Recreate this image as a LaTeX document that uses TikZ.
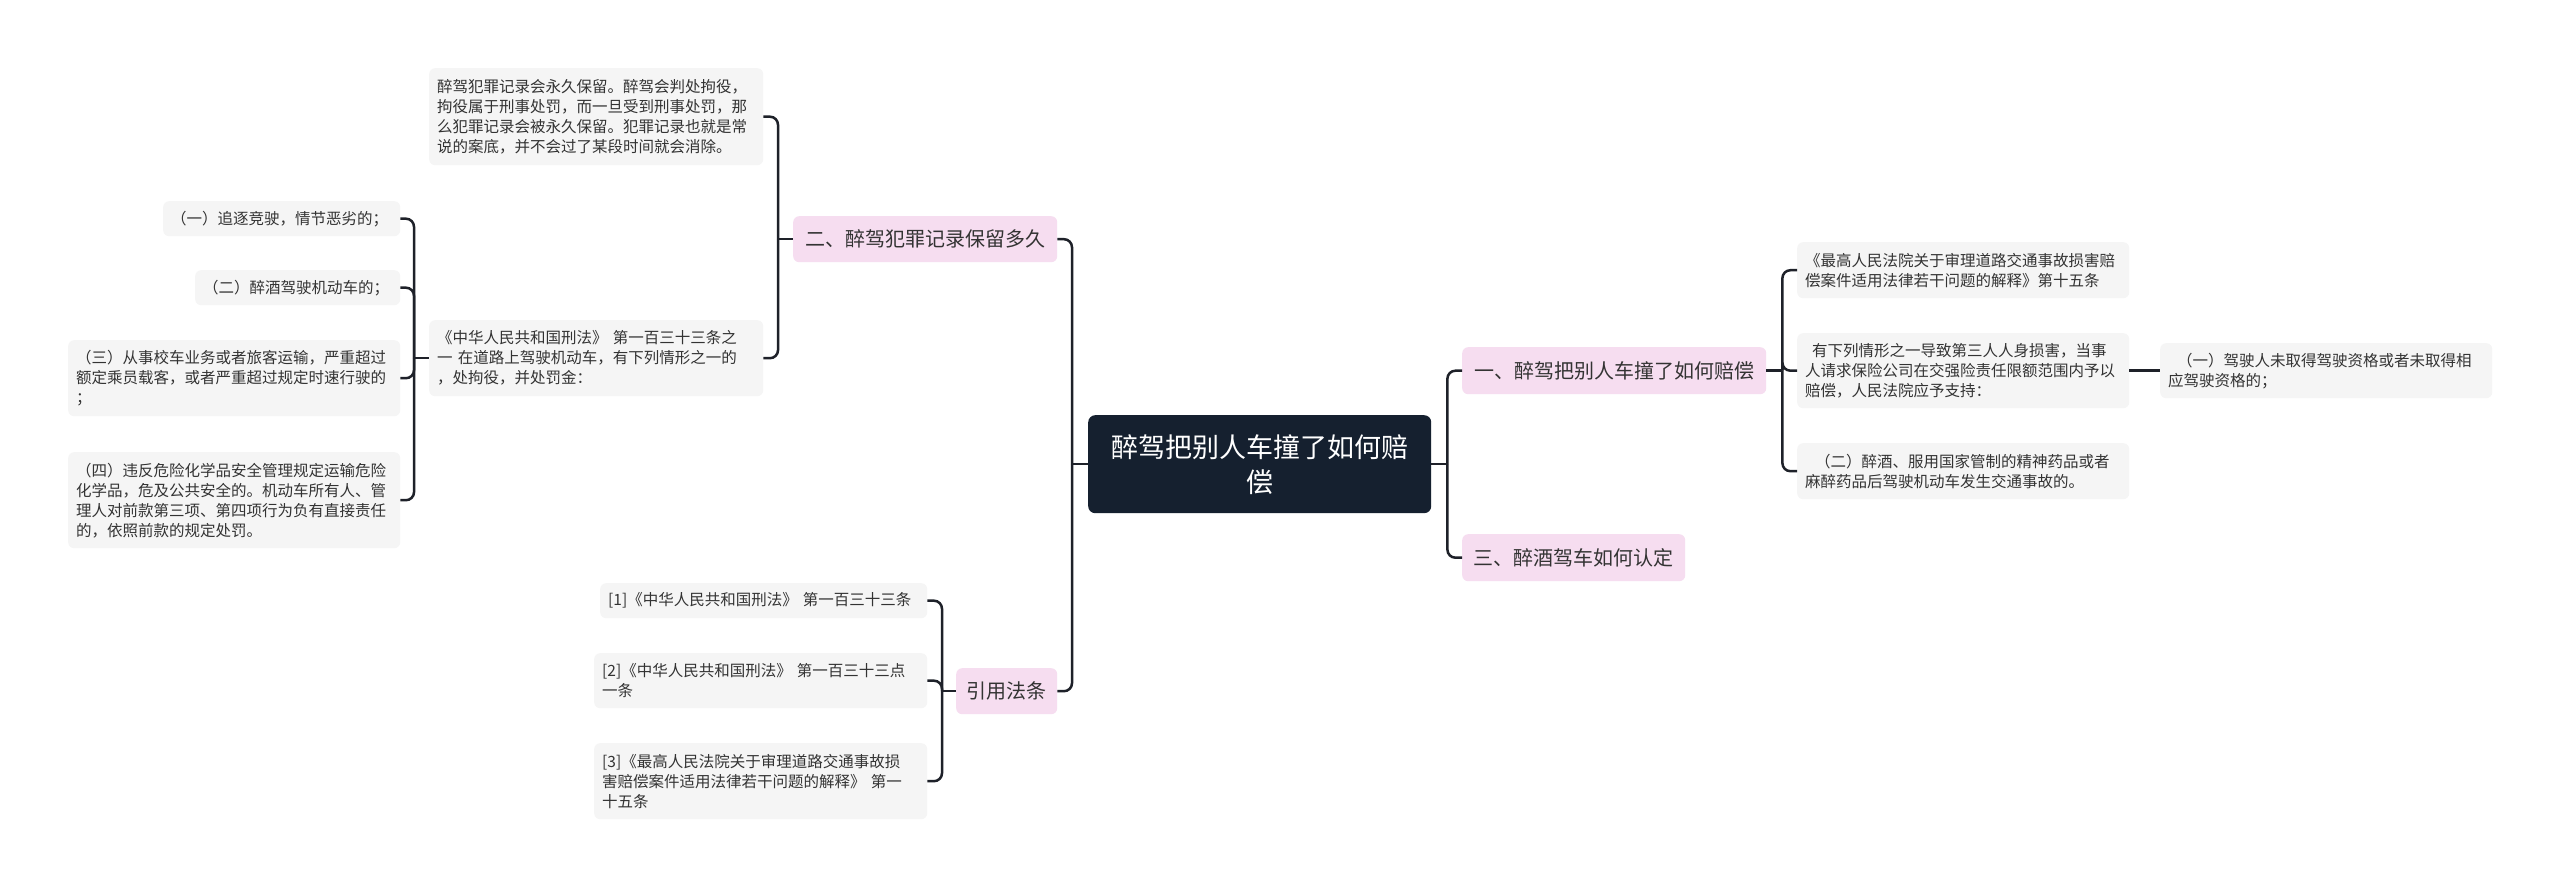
\documentclass[tikz,border=0pt]{standalone}
\usepackage{fontspec}
\setmainfont{Noto Sans CJK SC}
\usetikzlibrary{calc}
\definecolor{leafgray}{HTML}{F5F5F5}
\definecolor{headpink}{HTML}{F6DDF0}
\definecolor{rootnavy}{HTML}{15202F}
\definecolor{txt}{HTML}{333333}
\definecolor{linec}{HTML}{1E2129}
\tikzset{
  leafbox/.style={fill=leafgray, rounded corners=6pt, anchor=north west, inner xsep=8pt, inner ysep=0pt, align=left, text=txt, font=\fontsize{15.5}{20}\selectfont},
  headbox/.style={fill=headpink, rounded corners=6pt, anchor=north west, inner sep=0pt, text=txt, font=\fontsize{20}{24}\selectfont},
  rootbox/.style={fill=rootnavy, rounded corners=7pt, anchor=north west, inner sep=0pt, align=center, text=white, font=\fontsize{27}{35}\selectfont},
  conn/.style={draw=linec, line width=2.5pt, rounded corners=8pt},
}
\begin{document}
\begin{tikzpicture}[x=1pt,y=-1pt]
\fill[white] (0,0) rectangle (2560,888);
\useasboundingbox (0,0) rectangle (2560,888);

% root
\node[rootbox, minimum width=343pt, minimum height=98pt, text width=320pt] (root) at (1088,415) {醉驾把别人车撞了如何赔\\偿};

% headings
\node[headbox, minimum width=264pt, minimum height=46pt] (h2) at (793,216) {二、醉驾犯罪记录保留多久};
\node[headbox, minimum width=101pt, minimum height=46pt] (hy) at (956,668) {引用法条};
\node[headbox, minimum width=304pt, minimum height=47pt] (h1) at (1462,347) {一、醉驾把别人车撞了如何赔偿};
\node[headbox, minimum width=223pt, minimum height=47pt] (h3) at (1462,534) {三、醉酒驾车如何认定};

% left upper leaves
\node[leafbox, text width=318pt, minimum height=97pt] (t1) at (429,68) {醉驾犯罪记录会永久保留。醉驾会判处拘役，\\拘役属于刑事处罚，而一旦受到刑事处罚，那\\么犯罪记录会被永久保留。犯罪记录也就是常\\说的案底，并不会过了某段时间就会消除。};
\node[leafbox, text width=318pt, minimum height=76pt] (xf) at (429,320) {《中华人民共和国刑法》 第一百三十三条之\\一 在道路上驾驶机动车，有下列情形之一的\\，处拘役，并处罚金：};

\node[leafbox, text width=221pt, minimum height=35pt] (l1) at (163,201) {（一）追逐竞驶，情节恶劣的；};
\node[leafbox, text width=189pt, minimum height=35pt] (l2) at (195,270) {（二）醉酒驾驶机动车的；};
\node[leafbox, text width=316pt, minimum height=76pt] (l3) at (68,340) {（三）从事校车业务或者旅客运输，严重超过\\额定乘员载客，或者严重超过规定时速行驶的\\；};
\node[leafbox, text width=316pt, minimum height=96pt] (l4) at (68,452) {（四）违反危险化学品安全管理规定运输危险\\化学品，危及公共安全的。机动车所有人、管\\理人对前款第三项、第四项行为负有直接责任\\的，依照前款的规定处罚。};

% references
\node[leafbox, text width=311pt, minimum height=35pt] (r1) at (600,583) {[1]《中华人民共和国刑法》 第一百三十三条};
\node[leafbox, text width=317pt, minimum height=55pt] (r2) at (594,653) {[2]《中华人民共和国刑法》 第一百三十三点\\一条};
\node[leafbox, text width=317pt, minimum height=76pt] (r3) at (594,743) {[3]《最高人民法院关于审理道路交通事故损\\害赔偿案件适用法律若干问题的解释》 第一\\十五条};

% right leaves
\node[leafbox, text width=316pt, minimum height=56pt] (a1) at (1797,242) {《最高人民法院关于审理道路交通事故损害赔\\偿案件适用法律若干问题的解释》第十五条};
\node[leafbox, text width=316pt, minimum height=75pt] (a2) at (1797,333) {\hspace*{7pt}有下列情形之一导致第三人人身损害，当事\\人请求保险公司在交强险责任限额范围内予以\\赔偿，人民法院应予支持：};
\node[leafbox, text width=316pt, minimum height=56pt] (a3) at (1797,443) {\hspace*{10pt}（二）醉酒、服用国家管制的精神药品或者\\麻醉药品后驾驶机动车发生交通事故的。};
\node[leafbox, text width=316pt, minimum height=55pt] (b1) at (2160,343) {\hspace*{9pt}（一）驾驶人未取得驾驶资格或者未取得相\\应驾驶资格的；};

% junctions
\path (root.west) ++(-16,0) coordinate (jroot);
\path (root.east) ++(16,0) coordinate (jroote);
\path (h2.west) ++(-15,0) coordinate (jh2);
\path (xf.west) ++(-15,0) coordinate (jxf);
\path (hy.west) ++(-14,0) coordinate (jhy);
\path (h1.east) ++(16,0) coordinate (jh1);

% connectors
\draw[conn] (h2.east) -| (jroot);
\draw[conn] (hy.east) -| (jroot);
\draw[conn] (jroot) -- (root.west);

\draw[conn] (t1.east) -| (jh2);
\draw[conn] (xf.east) -| (jh2);
\draw[conn] (jh2) -- (h2.west);

\draw[conn] (l1.east) -| (jxf);
\draw[conn] (l2.east) -| (jxf);
\draw[conn] (l3.east) -| (jxf);
\draw[conn] (l4.east) -| (jxf);
\draw[conn] (jxf) -- (xf.west);

\draw[conn] (r1.east) -| (jhy);
\draw[conn] (r2.east) -| (jhy);
\draw[conn] (r3.east) -| (jhy);
\draw[conn] (jhy) -- (hy.west);

\draw[conn] (root.east) -- (jroote);
\draw[conn] (h1.west) -| (jroote);
\draw[conn] (h3.west) -| (jroote);

\draw[conn] (h1.east) -- (jh1);
\draw[conn] (a1.west) -| (jh1);
\draw[conn] (a2.west) -| (jh1);
\draw[conn] (a3.west) -| (jh1);
\draw[conn] (a2.east) -- (b1.west);
\end{tikzpicture}
\end{document}
